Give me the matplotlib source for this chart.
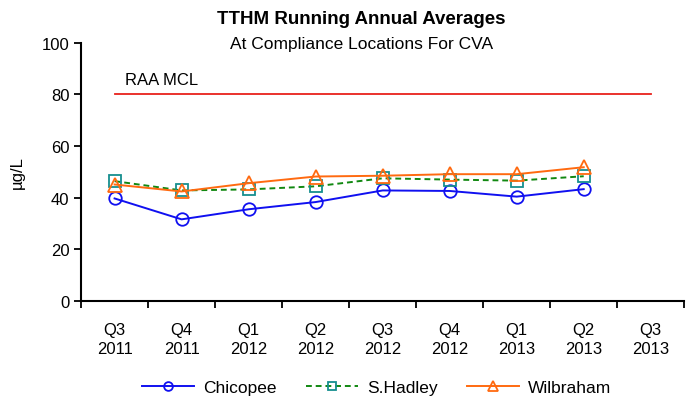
import numpy as np
import matplotlib.pyplot as plt

plt.rcParams['font.family'] = ['Liberation Sans', 'DejaVu Sans']

# Data
quarters = ['Q3\n2011', 'Q4\n2011', 'Q1\n2012', 'Q2\n2012', 'Q3\n2012',
            'Q4\n2012', 'Q1\n2013', 'Q2\n2013', 'Q3\n2013']
chicopee = [39.7, 31.6, 35.5, 38.3, 42.8, 42.6, 40.4, 43.3]
shadley = [46.4, 42.8, 43.2, 44.4, 47.5, 47.0, 46.6, 48.3]
wilbraham = [45.1, 42.4, 45.6, 48.2, 48.5, 49.1, 49.1, 51.8]
mcl = 80

x = np.arange(len(quarters))
xd = x[:len(chicopee)]

fig = plt.figure(figsize=(6.87, 4.02), dpi=100)
ax = fig.add_axes([0.118, 0.249, 0.878, 0.642])

ax.plot([x[0], x[-1]], [mcl, mcl], color='#e8211b', lw=1.3)
ax.text(0.15, 83, 'RAA MCL', fontsize=12, ha='left', va='bottom')

ax.plot(xd, chicopee, color='#1010f0', lw=1.4, marker='o', ms=9,
        mfc='none', mec='#1010f0', mew=1.3, label='Chicopee')
ax.plot(xd, shadley, color='#118811', lw=1.4, ls=(0, (3, 2)), marker='s', ms=9,
        mfc='none', mec='#168f8f', mew=1.3, label='S.Hadley')
ax.plot(xd, wilbraham, color='#ff6a10', lw=1.4, marker='^', ms=10,
        mfc='none', mec='#ff6a10', mew=1.3, label='Wilbraham')

ax.set_xlim(-0.5, len(quarters) - 0.5)
ax.set_ylim(0, 100)
ax.set_yticks(range(0, 101, 20))
ax.set_xticks(x)
ax.set_xticklabels(quarters, fontsize=12, linespacing=1.35)
ax.set_xticks(np.arange(-0.5, len(quarters), 1), minor=True)
ax.tick_params(axis='x', which='major', length=0, pad=15)
ax.tick_params(axis='x', which='minor', length=5, width=1.3, direction='out')
ax.tick_params(axis='y', labelsize=12, length=5, width=1.3, direction='out')
ax.set_ylabel('µg/L', fontsize=12, labelpad=12)
for s in ['top', 'right']:
    ax.spines[s].set_visible(False)
for s in ['left', 'bottom']:
    ax.spines[s].set_linewidth(1.5)

fig.text(0.526, 0.94, 'TTHM Running Annual Averages', ha='center',
         fontsize=13.5, fontweight='bold')
fig.text(0.526, 0.878, 'At Compliance Locations For CVA', ha='center',
         fontsize=12.5)

ax.legend(loc='center', bbox_to_anchor=(0.49, -0.335), ncol=3,
          frameon=False, fontsize=12.5, handlelength=3, columnspacing=1.7,
          handletextpad=0.5, markerscale=0.7)

fig.savefig('out.png', dpi=100)
